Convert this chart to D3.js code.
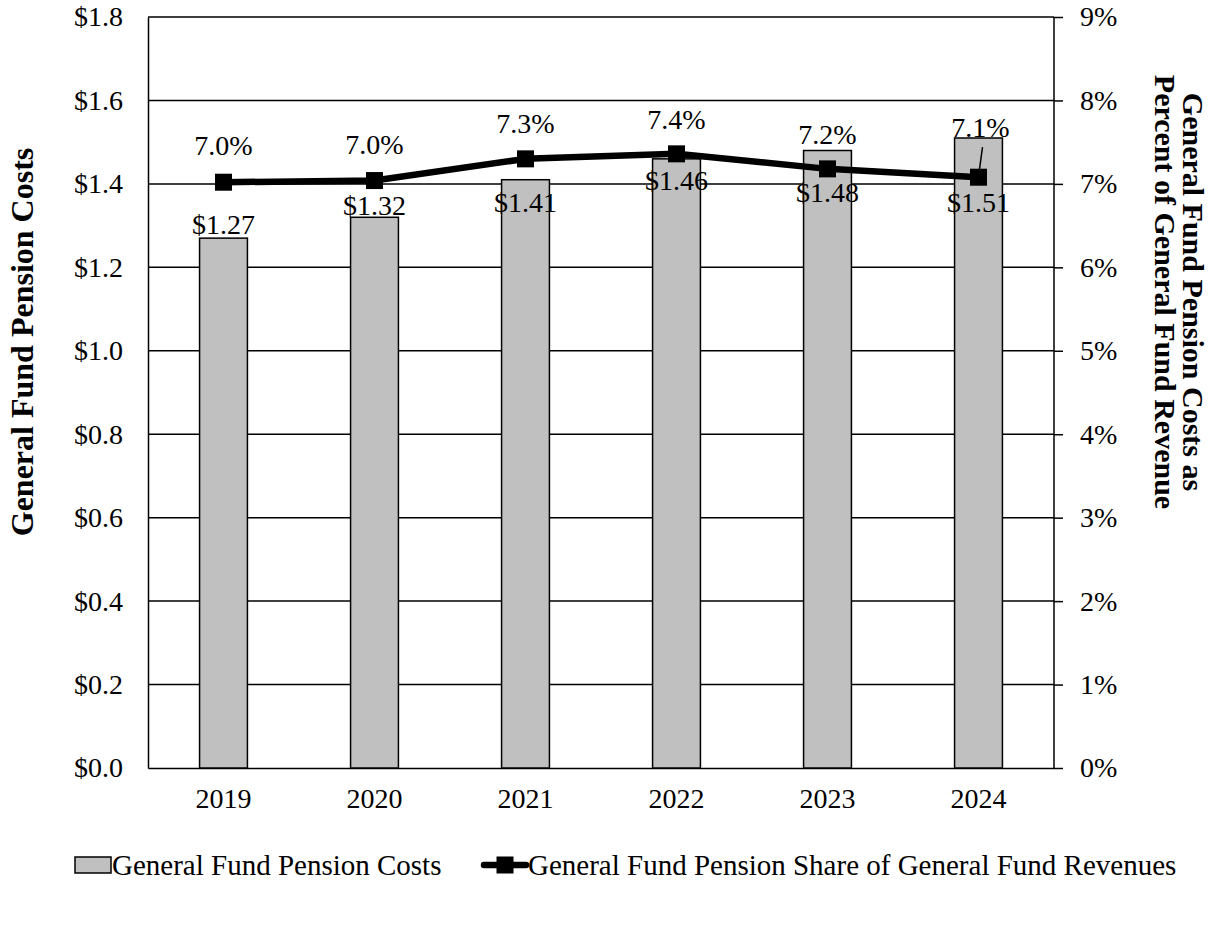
<!DOCTYPE html>
<html>
<head>
<meta charset="utf-8">
<script src="https://cdn.jsdelivr.net/npm/d3@7"></script>
<style>
  html, body { margin: 0; padding: 0; background: #fff; }
  svg { display: block; font-family: "Liberation Serif", "Times New Roman", serif; }
</style>
</head>
<body>
<svg id="chart" width="1224" height="943"></svg>
<script>
// Fiscal years
const years = ["2019", "2020", "2021", "2022", "2023", "2024"];
// General Fund pension costs, $ billions
const pensionCosts = [1.27, 1.32, 1.41, 1.46, 1.48, 1.51];
// Pension costs as share of General Fund revenue, %
const revenueShare = [7.02, 7.04, 7.30, 7.36, 7.18, 7.08];
// Axis ticks
const costTicks = [0, 0.2, 0.4, 0.6, 0.8, 1.0, 1.2, 1.4, 1.6, 1.8];
const shareTicks = [0, 1, 2, 3, 4, 5, 6, 7, 8, 9];

// Label nudges (pixels) so value labels clear the line
const costLabelDy = [-4, -2, 32, 31, 51, 74];
const shareLabelDy = [-27, -27, -26, -25, -25, -40];

const svg = d3.select("#chart");
const plot = { left: 148, right: 1054, top: 17, bottom: 768 };
const FONT = 28;
const TITLE_FONT = 30;

const x = d3.scaleBand().domain(years).range([plot.left, plot.right]).paddingInner(0).paddingOuter(0);
const yL = d3.scaleLinear().domain([0, 1.8]).range([plot.bottom, plot.top]);
const yR = d3.scaleLinear().domain([0, 9]).range([plot.bottom, plot.top]);
const barW = x.bandwidth() * 0.317;

// Gridlines
svg.append("g").selectAll("line").data(costTicks.slice(1)).join("line")
  .attr("x1", plot.left).attr("x2", plot.right)
  .attr("y1", d => yL(d)).attr("y2", d => yL(d))
  .attr("stroke", "#000").attr("stroke-width", 1.5);

// Left axis
const leftAxis = d3.axisLeft(yL).tickValues(costTicks).tickSize(0).tickPadding(25)
  .tickFormat(d => "$" + d3.format(".1f")(d));
const gL = svg.append("g").attr("transform", `translate(${plot.left},0)`).call(leftAxis);
gL.select(".domain").attr("stroke", "#000").attr("stroke-width", 1.5);
gL.selectAll("text").attr("font-size", FONT).attr("fill", "#000")
  .attr("font-family", "Liberation Serif");

// Right axis
const rightAxis = d3.axisRight(yR).tickValues(shareTicks).tickSize(9).tickPadding(17)
  .tickFormat(d => d + "%");
const gR = svg.append("g").attr("transform", `translate(${plot.right},0)`).call(rightAxis);
gR.select(".domain").attr("stroke", "#000").attr("stroke-width", 1.5).attr("d", `M0,${plot.top}V${plot.bottom}`);
gR.selectAll(".tick line").attr("stroke", "#000").attr("stroke-width", 1.5);
gR.selectAll("text").attr("font-size", FONT).attr("fill", "#000")
  .attr("font-family", "Liberation Serif");

// Bottom axis labels
const bottomAxis = d3.axisBottom(x).tickSize(0).tickPadding(20);
const gB = svg.append("g").attr("transform", `translate(0,${plot.bottom})`).call(bottomAxis);
gB.select(".domain").attr("stroke", "#000").attr("stroke-width", 1.5);
gB.selectAll("text").attr("font-size", FONT).attr("fill", "#000")
  .attr("font-family", "Liberation Serif");

// Bars
svg.append("g").selectAll("rect").data(pensionCosts).join("rect")
  .attr("x", (d, i) => x(years[i]) + x.bandwidth() / 2 - barW / 2)
  .attr("y", d => yL(d))
  .attr("width", barW)
  .attr("height", d => yL(0) - yL(d))
  .attr("fill", "#c0c0c0").attr("stroke", "#000").attr("stroke-width", 1.5);

// Line series
const cx = i => x(years[i]) + x.bandwidth() / 2;
const line = d3.line().x((d, i) => cx(i)).y(d => yR(d));
svg.append("path").datum(revenueShare)
  .attr("d", line).attr("fill", "none").attr("stroke", "#000")
  .attr("stroke-width", 6.5).attr("stroke-linejoin", "round");

const mk = 17;
svg.append("g").selectAll("rect").data(revenueShare).join("rect")
  .attr("x", (d, i) => cx(i) - mk / 2).attr("y", d => yR(d) - mk / 2)
  .attr("width", mk).attr("height", mk).attr("fill", "#000");

// Cost labels
svg.append("g").selectAll("text").data(pensionCosts).join("text")
  .attr("x", (d, i) => cx(i))
  .attr("y", (d, i) => yL(d) + costLabelDy[i])
  .attr("text-anchor", "middle").attr("font-size", FONT).attr("fill", "#000")
  .text(d => "$" + d3.format(".2f")(d));

// Share labels
svg.append("g").selectAll("text").data(revenueShare).join("text")
  .attr("x", (d, i) => cx(i) + (i === 5 ? 2 : 0))
  .attr("y", (d, i) => yR(d) + shareLabelDy[i])
  .attr("text-anchor", "middle").attr("font-size", FONT).attr("fill", "#000")
  .text(d => d3.format(".1f")(d) + "%");

// Leader line for the last share label
{
  const i = 5, v = revenueShare[i];
  svg.append("line")
    .attr("x1", cx(i) + 4).attr("y1", yR(v) - 30)
    .attr("x2", cx(i) + 1).attr("y2", yR(v) - 8)
    .attr("stroke", "#000").attr("stroke-width", 1.5);
}

// Axis titles
svg.append("text")
  .attr("transform", `translate(33,342) rotate(-90)`)
  .attr("text-anchor", "middle").attr("font-size", 32).attr("font-weight", "bold")
  .text("General Fund Pension Costs");

const rt = svg.append("g").attr("transform", `translate(1170,292) rotate(90)`);
rt.append("text").attr("x", 0).attr("y", -13)
  .attr("text-anchor", "middle").attr("font-size", TITLE_FONT).attr("font-weight", "bold")
  .text("General Fund Pension Costs as");
rt.append("text").attr("x", 0).attr("y", 15)
  .attr("text-anchor", "middle").attr("font-size", TITLE_FONT).attr("font-weight", "bold")
  .text("Percent of General Fund Revenue");

// Legend
const LEG_FONT = 29;
const lg = svg.append("g");
const ly = 865;
lg.append("rect").attr("x", 75).attr("y", ly - 8).attr("width", 36).attr("height", 16)
  .attr("fill", "#c0c0c0").attr("stroke", "#000").attr("stroke-width", 1.5);
lg.append("text").attr("x", 112).attr("y", ly + 10).attr("font-size", LEG_FONT)
  .text("General Fund Pension Costs");
lg.append("line").attr("x1", 484).attr("x2", 526).attr("y1", ly).attr("y2", ly)
  .attr("stroke", "#000").attr("stroke-width", 6.5).attr("stroke-linecap", "round");
lg.append("rect").attr("x", 505 - 8.5).attr("y", ly - 8.5).attr("width", 17).attr("height", 17)
  .attr("fill", "#000");
lg.append("text").attr("x", 528).attr("y", ly + 10).attr("font-size", LEG_FONT)
  .text("General Fund Pension Share of General Fund Revenues");
</script>
</body>
</html>
